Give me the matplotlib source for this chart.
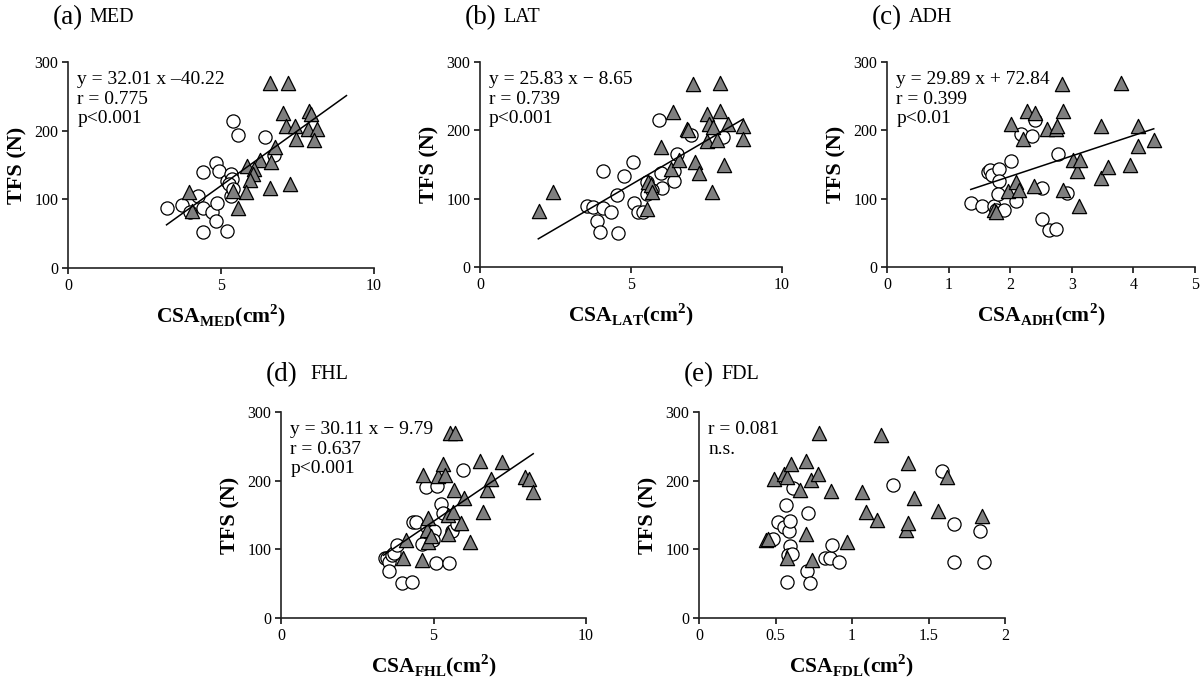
import numpy as np
import matplotlib
matplotlib.use("Agg")
import matplotlib.pyplot as plt

plt.rcParams['font.family'] = ['Liberation Serif', 'DejaVu Serif']
plt.rcParams['mathtext.fontset'] = 'custom'
plt.rcParams['mathtext.rm'] = 'Liberation Serif'
plt.rcParams['mathtext.bf'] = 'Liberation Serif:bold'

# (a) MED
med_circ_x = [3.25, 3.74, 3.99, 4.26, 4.40, 4.40, 4.42, 4.69, 4.84, 4.88, 4.84, 4.92,
              5.19, 5.19, 5.32, 5.35, 5.27, 5.34, 5.40, 5.57, 6.44, 6.74, 5.38]
med_circ_y = [88, 92, 81, 105, 140, 88, 52, 81, 69, 94, 153, 141,
              54, 126, 137, 130, 123, 105, 214, 193, 191, 165, 115]
med_tri_x = [3.97, 4.06, 6.60, 7.20, 7.04, 7.12, 7.43, 7.89, 7.93, 7.85, 8.13, 8.04, 7.45,
             6.77, 6.27, 5.84, 6.09, 6.04, 5.95, 6.62, 6.60, 7.25, 5.82, 5.54, 5.38]
med_tri_y = [110, 83, 269, 270, 226, 207, 207, 229, 224, 202, 202, 186, 188,
             176, 157, 149, 144, 137, 128, 154, 117, 123, 111, 87, 112]

# (b) LAT
lat_circ_x = [3.55, 3.75, 4.08, 3.86, 3.97, 4.33, 4.08, 4.53, 4.58, 4.77, 5.08, 5.11, 5.24,
              5.39, 5.52, 5.52, 5.98, 6.02, 5.94, 6.42, 6.42, 6.53, 6.98, 8.06, 5.68]
lat_circ_y = [90, 88, 86, 67, 51, 80, 140, 105, 50, 133, 154, 93, 80,
              80, 107, 125, 137, 116, 215, 141, 126, 166, 193, 190, 113]
lat_tri_x = [1.95, 2.43, 5.52, 5.55, 5.66, 5.68, 5.99, 6.40, 6.32, 6.59, 6.84, 6.90, 7.06, 7.12,
             7.25, 7.53, 7.53, 7.59, 7.67, 7.72, 7.84, 7.95, 7.95, 8.08, 8.20, 8.72, 8.72]
lat_tri_y = [82, 110, 85, 124, 120, 110, 175, 227, 144, 156, 202, 200, 268, 154,
             138, 224, 185, 209, 110, 205, 186, 228, 269, 149, 209, 207, 188]

# (c) ADH
adh_circ_x = [1.36, 1.54, 1.64, 1.68, 1.70, 1.74, 1.77, 1.82, 1.82, 1.80, 1.90, 2.01,
              2.09, 2.17, 2.36, 2.41, 2.51, 2.51, 2.63, 2.74, 2.77, 2.93]
adh_circ_y = [93, 90, 139, 142, 134, 90, 84, 143, 126, 107, 83, 155,
              96, 194, 192, 215, 116, 70, 54, 55, 166, 109]
adh_tri_x = [1.74, 1.77, 1.97, 2.02, 2.09, 2.14, 2.21, 2.28, 2.40, 2.39, 2.60, 2.75, 2.76, 2.84,
             2.86, 2.86, 3.02, 3.09, 3.14, 3.11, 3.48, 3.48, 3.58, 3.80, 3.94, 4.08, 4.07, 4.34]
adh_tri_y = [84, 81, 111, 209, 124, 113, 188, 228, 225, 118, 202, 202, 207, 268,
             228, 112, 157, 140, 156, 90, 206, 130, 146, 270, 150, 206, 177, 186]

# (d) FHL
fhl_circ_x = [3.41, 3.49, 3.55, 3.63, 3.70, 3.55, 3.79, 3.98, 4.28, 4.32, 4.43, 4.61,
              4.74, 4.78, 5.00, 4.99, 5.08, 5.13, 5.23, 5.32, 5.52, 5.60, 5.76, 5.96]
fhl_circ_y = [88, 87, 82, 92, 94, 68, 106, 51, 52, 140, 140, 108,
              191, 133, 126, 114, 80, 192, 166, 153, 80, 127, 137, 215]
fhl_tri_x = [4.01, 4.09, 4.61, 4.64, 4.78, 4.83, 4.83, 4.91, 5.14, 5.32, 5.37, 5.46, 5.49, 5.54,
             5.70, 5.65, 5.68, 5.90, 6.01, 6.20, 6.52, 6.63, 6.76, 6.87, 7.23, 8.00, 8.14, 8.27]
fhl_tri_y = [87, 114, 85, 208, 128, 145, 111, 119, 207, 225, 208, 150, 123, 269,
             270, 155, 187, 138, 175, 110, 229, 155, 186, 202, 227, 206, 202, 184]

# (e) FDL
fdl_circ_x = [0.486, 0.519, 0.558, 0.566, 0.573, 0.590, 0.595, 0.595, 0.580, 0.610, 0.617, 0.704,
              0.715, 0.725, 0.824, 0.856, 0.867, 0.915, 1.266, 1.586, 1.669, 1.667, 1.837, 1.863]
fdl_circ_y = [115, 140, 132, 165, 53, 126, 141, 105, 92, 93, 190, 68,
              153, 51, 88, 88, 106, 81, 193, 214, 137, 81, 126, 81]
fdl_tri_x = [0.438, 0.453, 0.490, 0.556, 0.573, 0.577, 0.599, 0.660, 0.697, 0.699, 0.730, 0.736, 0.780, 0.784,
             0.863, 0.965, 1.068, 1.092, 1.161, 1.190, 1.351, 1.368, 1.368, 1.405, 1.564, 1.619, 1.847]
fdl_tri_y = [114, 115, 203, 210, 87, 206, 225, 187, 228, 123, 201, 84, 210, 269,
             185, 110, 184, 154, 143, 267, 128, 138, 226, 175, 156, 206, 148]

W, H = 1200, 682
fig = plt.figure(figsize=(12, 6.82), dpi=100)


def px_axes(l, r, t, b):
    return fig.add_axes([l / W, (H - b) / H, (r - l) / W, (b - t) / H])


panels = [
    # letter, name, rect, title offset, name gap, xlim, xticks, circ, tri, fit, fit range, text
    ('(a)', 'MED', (68, 374, 62, 268), 44, 6, 10, [0, 5, 10],
     (med_circ_x, med_circ_y), (med_tri_x, med_tri_y), (32.01, -40.22), (3.22, 9.1),
     'y = 32.01 x \u201340.22\nr = 0.775\np<0.001'),
    ('(b)', 'LAT', (480, 782, 62, 267), 44, 7, 10, [0, 5, 10],
     (lat_circ_x, lat_circ_y), (lat_tri_x, lat_tri_y), (25.83, -8.65), (1.93, 8.72),
     'y = 25.83 x \u2212 8.65\nr = 0.739\np<0.001'),
    ('(c)', 'ADH', (887, 1195, 62, 267), 44, 7, 5, [0, 1, 2, 3, 4, 5],
     (adh_circ_x, adh_circ_y), (adh_tri_x, adh_tri_y), (29.89, 72.84), (1.36, 4.33),
     'y = 29.89 x + 72.84\nr = 0.399\np<0.01'),
    ('(d)', 'FHL', (281, 586, 412, 618), 37, 13, 10, [0, 5, 10],
     (fhl_circ_x, fhl_circ_y), (fhl_tri_x, fhl_tri_y), (30.11, -9.79), (3.36, 8.27),
     'y = 30.11 x \u2212 9.79\nr = 0.637\np<0.001'),
    ('(e)', 'FDL', (699, 1005, 412, 618), 37, 7, 2, [0, 0.5, 1, 1.5, 2],
     (fdl_circ_x, fdl_circ_y), (fdl_tri_x, fdl_tri_y), None, None,
     'r = 0.081\nn.s.'),
]

for letter, name, (l, r, t, b), toff, gap, xmax, xticks, circ, tri, fit, frange, txt in panels:
    ax = px_axes(l, r, t, b)
    ax.scatter(circ[0], circ[1], s=90, marker='o', facecolor='white',
               edgecolor='black', linewidth=0.9, zorder=3)
    ax.scatter(tri[0], tri[1], s=105, marker='^', facecolor='#7f7f7f',
               edgecolor='black', linewidth=0.9, zorder=3)
    if fit is not None:
        xs = np.array(frange)
        ax.plot(xs, fit[0] * xs + fit[1], color='black', linewidth=1.1, zorder=4)
    ax.set_xlim(0, xmax)
    ax.set_ylim(0, 300)
    ax.set_xticks(xticks)
    ax.set_xticklabels([('%g' % v) for v in xticks])
    ax.set_yticks([0, 100, 200, 300])
    for s in ['top', 'right']:
        ax.spines[s].set_visible(False)
    for s in ['left', 'bottom']:
        ax.spines[s].set_linewidth(1.2)
        ax.spines[s].set_color('#222222')
    ax.tick_params(direction='out', length=4, width=1.1, labelsize=11.5, pad=3)
    ax.set_ylabel('TFS (N)', fontsize=16, fontweight='bold', labelpad=5)
    ax.set_xlabel(r'CSA$_{\mathbf{%s}}$(cm$^{\mathbf{2}}$)' % name,
                  fontsize=15.5, fontweight='bold', labelpad=6)
    ax.text(0.03, 0.955, txt, transform=ax.transAxes, va='top', ha='left',
            fontsize=14, linespacing=1.2, zorder=5)
    # panel title: "(a)" large, muscle name smaller next to it
    lt = fig.text((l - 15) / W, 1 - (t - toff) / H, letter, fontsize=19.5,
                  va='center', ha='left')
    ax.annotate(name, xy=(1, 0.5), xycoords=lt, xytext=(gap * 0.72, 0),
                textcoords='offset points', fontsize=14.5, va='center', ha='left',
                annotation_clip=False)

fig.savefig('out.png', dpi=100)
